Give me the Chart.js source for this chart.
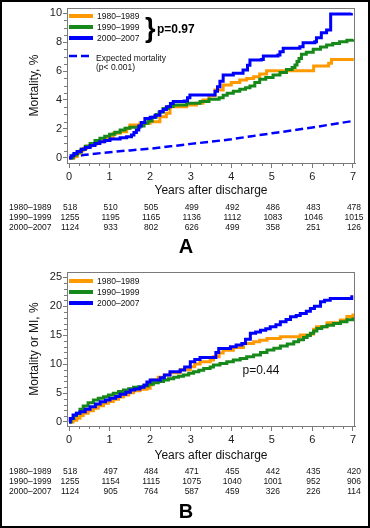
<!DOCTYPE html>
<html>
<head>
<meta charset="utf-8">
<script src="https://cdn.jsdelivr.net/npm/chart.js@4.4.1/dist/chart.umd.min.js"></script>
<style>
  html, body { margin: 0; padding: 0; background: #fff; }
  #wrap { position: relative; width: 370px; height: 528px; overflow: hidden; background: #fff; }
  #wrap canvas { position: absolute; left: 0; }
  #chartA { top: 0; }
  #chartB { top: 262px; }
  #frame { position: absolute; left: 0; top: 0; width: 370px; height: 528px; box-sizing: border-box;
           border: 2px solid #000; pointer-events: none; }
</style>
</head>
<body>
<div id="wrap">
  <canvas id="chartA" width="370" height="262"></canvas>
  <canvas id="chartB" width="370" height="266"></canvas>
  <div id="frame"></div>
</div>
<script>
const FONT = '"Liberation Sans", Arial, Helvetica, sans-serif';
const ORANGE = '#FF9900', GREEN = '#17891A', BLUE = '#0000FF', AXIS = '#7a7a7a';

// Axes
const xTicks = [0, 1, 2, 3, 4, 5, 6, 7];
const yTicksA = [0, 2, 4, 6, 8, 10];
const yTicksB = [0, 5, 10, 15, 20, 25];
const groups = ['1980\u20131989', '1990\u20131999', '2000\u20132007'];

// Panel A - mortality, %
const aOrangeT = [0, 0.12, 0.2, 0.27, 0.35, 0.43, 0.55, 0.68, 0.85, 1.01, 1.09, 1.26, 1.42, 1.5, 1.75, 2.0, 2.24, 2.4, 2.49, 2.9, 3.14, 3.3, 3.45, 3.6, 3.8, 4.0, 4.21, 4.38, 4.55, 4.7, 4.87, 6.03, 6.4, 6.47, 7.02];
const aOrangeV = [0, 0.1, 0.3, 0.5, 0.65, 0.83, 0.95, 1.12, 1.3, 1.47, 1.7, 1.81, 2.05, 2.28, 2.39, 2.5, 2.85, 3.08, 3.54, 3.65, 3.77, 4.0, 4.3, 4.69, 5.03, 5.2, 5.38, 5.49, 5.6, 5.79, 6.02, 6.34, 6.53, 6.8, 6.8];
const aGreenT = [0, 0.1, 0.2, 0.3, 0.4, 0.52, 0.64, 0.76, 0.88, 1.0, 1.13, 1.26, 1.38, 1.5, 1.75, 1.85, 1.95, 2.05, 2.15, 2.22, 2.32, 2.45, 2.57, 2.9, 3.23, 3.45, 3.7, 3.8, 3.9, 4.05, 4.21, 4.35, 4.46, 4.58, 4.7, 4.85, 5.03, 5.2, 5.36, 5.5, 5.57, 5.62, 5.67, 5.73, 5.85, 6.02, 6.2, 6.35, 6.5, 6.67, 6.85, 7.0];
const aGreenV = [0, 0.2, 0.4, 0.6, 0.8, 1.0, 1.2, 1.36, 1.5, 1.63, 1.78, 1.93, 2.05, 2.12, 2.2, 2.4, 2.55, 2.8, 3.0, 3.15, 3.42, 3.55, 3.66, 3.77, 3.89, 4.05, 4.15, 4.32, 4.46, 4.6, 4.74, 4.85, 4.97, 5.2, 5.43, 5.55, 5.72, 5.9, 6.11, 6.25, 6.41, 6.65, 6.87, 7.15, 7.3, 7.5, 7.65, 7.79, 7.9, 8.02, 8.12, 8.2];
const aBlueT = [0, 0.05, 0.12, 0.2, 0.3, 0.4, 0.52, 0.64, 0.76, 0.88, 1.01, 1.26, 1.42, 1.54, 1.6, 1.66, 1.72, 1.78, 1.87, 2.0, 2.12, 2.24, 2.32, 2.4, 2.5, 2.57, 2.84, 2.92, 2.98, 3.6, 3.66, 3.72, 3.8, 4.05, 4.29, 4.4, 4.46, 4.74, 4.79, 5.15, 5.2, 5.28, 5.69, 5.77, 6.06, 6.1, 6.22, 6.35, 6.45, 6.96];
const aBlueV = [0, 0.15, 0.3, 0.45, 0.6, 0.72, 0.85, 1.0, 1.12, 1.2, 1.31, 1.4, 1.47, 1.59, 1.75, 1.93, 2.2, 2.45, 2.73, 2.8, 2.95, 3.2, 3.35, 3.54, 3.75, 3.9, 3.93, 4.15, 4.34, 4.6, 4.92, 5.3, 5.72, 5.84, 6.07, 6.4, 6.76, 6.8, 7.03, 7.1, 7.33, 7.57, 7.68, 7.95, 8.02, 8.3, 8.65, 8.83, 9.93, 10.0];
const aExpT = [0, 0.35, 1, 1.5, 2, 2.5, 3, 3.5, 4, 4.5, 5, 5.5, 6, 6.5, 7];
const aExpV = [0, 0.2, 0.4, 0.52, 0.64, 0.8, 0.97, 1.12, 1.29, 1.5, 1.7, 1.9, 2.1, 2.33, 2.55];

// Panel B - mortality or MI, %
const bOrangeT = [0, 0.1, 0.19, 0.27, 0.35, 0.47, 0.6, 0.72, 0.85, 0.97, 1.09, 1.22, 1.34, 1.47, 1.59, 1.75, 1.92, 2.0, 2.04, 2.2, 2.35, 2.49, 2.74, 2.99, 3.1, 3.23, 3.48, 3.56, 3.7, 3.8, 4.05, 4.3, 4.55, 4.7, 4.88, 5.21, 5.7, 5.95, 6.03, 6.1, 6.36, 6.69, 6.85, 7.0];
const bOrangeV = [0, 0.3, 0.63, 1.1, 1.5, 1.95, 2.36, 2.8, 3.22, 3.55, 3.9, 4.3, 4.66, 5.05, 5.4, 5.63, 5.8, 6.38, 7.24, 7.7, 8.1, 8.5, 9.0, 9.53, 10.0, 10.4, 10.69, 11.26, 11.9, 12.4, 12.87, 13.55, 13.84, 14.1, 14.41, 14.7, 15.0, 15.17, 16.0, 16.43, 17.12, 17.59, 18.2, 18.74];
const bGreenT = [0, 0.05, 0.12, 0.19, 0.27, 0.35, 0.47, 0.6, 0.72, 0.85, 0.97, 1.09, 1.22, 1.34, 1.47, 1.59, 1.71, 1.83, 1.95, 2.08, 2.2, 2.33, 2.45, 2.58, 2.7, 2.82, 2.95, 3.07, 3.2, 3.32, 3.48, 3.56, 3.72, 3.89, 4.05, 4.22, 4.38, 4.55, 4.72, 4.88, 5.05, 5.21, 5.38, 5.54, 5.66, 5.78, 5.87, 5.95, 6.03, 6.11, 6.23, 6.36, 6.52, 6.69, 6.85, 7.0];
const bGreenV = [0, 0.6, 1.1, 1.5, 2.2, 2.76, 3.3, 3.79, 4.1, 4.36, 4.65, 4.94, 5.25, 5.52, 5.75, 5.98, 6.1, 6.2, 6.5, 6.78, 7.0, 7.24, 7.45, 7.7, 7.9, 8.1, 8.4, 8.67, 8.95, 9.25, 9.5, 9.83, 10.1, 10.4, 10.7, 10.98, 11.25, 11.55, 12.0, 12.41, 12.75, 13.1, 13.45, 13.84, 14.2, 14.6, 14.95, 15.3, 15.7, 16.15, 16.45, 16.72, 17.0, 17.3, 17.65, 18.05];
const bBlueT = [0, 0.03, 0.1, 0.18, 0.27, 0.4, 0.52, 0.65, 0.77, 0.9, 1.01, 1.15, 1.26, 1.4, 1.51, 1.62, 1.75, 1.85, 1.92, 2.0, 2.25, 2.35, 2.49, 2.74, 2.85, 2.99, 3.1, 3.23, 3.62, 3.69, 3.98, 4.12, 4.26, 4.35, 4.47, 4.6, 4.72, 4.85, 4.96, 5.1, 5.21, 5.35, 5.46, 5.6, 5.7, 5.85, 5.95, 6.05, 6.2, 6.3, 6.44, 6.97];
const bBlueV = [0, 0.6, 1.2, 1.5, 1.78, 2.2, 2.64, 3.1, 3.5, 3.8, 4.08, 4.4, 4.77, 5.15, 5.52, 5.7, 5.98, 6.4, 6.9, 7.24, 7.64, 8.1, 8.67, 8.97, 9.5, 10.4, 10.8, 11.15, 12.0, 12.7, 12.98, 13.3, 13.55, 14.3, 15.3, 15.55, 15.86, 16.1, 16.43, 16.8, 17.3, 17.7, 18.16, 18.4, 18.74, 19.1, 19.6, 20.0, 20.74, 21.0, 21.33, 21.9];

// Numbers at risk (one value per x tick)
const riskA80 = [518, 510, 505, 499, 492, 486, 483, 478];
const riskA90 = [1255, 1195, 1165, 1136, 1112, 1083, 1046, 1015];
const riskA00 = [1124, 933, 802, 626, 499, 358, 251, 126];
const riskB80 = [518, 497, 484, 471, 455, 442, 435, 420];
const riskB90 = [1255, 1154, 1115, 1075, 1040, 1001, 952, 906];
const riskB00 = [1124, 905, 764, 587, 459, 326, 226, 114];

function pts(t, v) {
    return t.map((x, i) => ({ x: x, y: v[i] }));
}

function stepLine(t, v, color, order) {
    return { data: pts(t, v), borderColor: color, borderWidth: 3, stepped: true,
             pointRadius: 0, fill: false, order: order };
}

function line(ctx, x1, y1, x2, y2) {
    ctx.beginPath(); ctx.moveTo(x1, y1); ctx.lineTo(x2, y2); ctx.stroke();
}

// Frame, minor ticks, legend, risk table and panel letter
function decorPlugin(p) {
    return {
        id: 'decor',
        afterDraw(chart) {
            const ctx = chart.ctx, a = chart.chartArea;
            const xs = chart.scales.x, ys = chart.scales.y;
            ctx.save();
            ctx.strokeStyle = AXIS;
            ctx.lineWidth = 1;
            ctx.strokeRect(a.left + 0.5, a.top + 0.5, a.right - a.left - 1, a.bottom - a.top);

            // minor ticks
            for (let i = 0; i <= 28; i++) {
                if (i % 4 === 0) continue;
                const px = Math.round(xs.getPixelForValue(i * 0.25)) + 0.5;
                line(ctx, px, a.bottom, px, a.bottom + 3);
            }
            const top = p.yTicks[p.yTicks.length - 1];
            const n = Math.round(top / p.yMinor);
            for (let i = 0; i <= n; i++) {
                const v = i * p.yMinor;
                if (p.yTicks.includes(v)) continue;
                const py = Math.round(ys.getPixelForValue(v)) + 0.5;
                line(ctx, a.left - 3, py, a.left, py);
            }

            // legend
            const colors = [ORANGE, GREEN, BLUE];
            ctx.textBaseline = 'middle';
            ctx.textAlign = 'left';
            ctx.font = '8.5px ' + FONT;
            colors.forEach((c, i) => {
                ctx.strokeStyle = c;
                ctx.lineWidth = 4;
                line(ctx, 69, p.legendY[i], 93, p.legendY[i]);
                ctx.fillStyle = '#111';
                ctx.fillText(groups[i], 97, p.legendY[i] + 0.5);
            });
            if (p.extra) p.extra(ctx);

            // numbers at risk
            ctx.fillStyle = '#111';
            ctx.font = '8.5px ' + FONT;
            p.risk.forEach((row, r) => {
                ctx.textAlign = 'left';
                ctx.fillText(groups[r], 9, p.riskY[r]);
                ctx.textAlign = 'center';
                row.forEach((val, j) => {
                    ctx.fillText(String(val), xs.getPixelForValue(xTicks[j]) + 1, p.riskY[r]);
                });
            });

            // panel letter
            ctx.font = 'bold 20px ' + FONT;
            ctx.textAlign = 'center';
            ctx.fillStyle = '#000';
            ctx.fillText(p.letter, 186, p.letterY);
            ctx.restore();
        }
    };
}

function makeChart(id, p) {
    return new Chart(document.getElementById(id), {
        type: 'line',
        data: { datasets: p.datasets },
        options: {
            responsive: false,
            animation: false,
            events: [],
            layout: { padding: { left: 0, right: 15, top: p.top, bottom: p.padBottom } },
            plugins: { legend: { display: false }, tooltip: { enabled: false } },
            scales: {
                x: {
                    type: 'linear', min: -0.05, max: 7.05,
                    afterBuildTicks: s => { s.ticks = xTicks.map(v => ({ value: v })); },
                    afterFit: s => { s.height = p.xHeight; s.paddingLeft = 0; s.paddingRight = 0; },
                    ticks: { autoSkip: false, maxRotation: 0, padding: 2, color: '#222',
                             font: { size: 11, family: FONT } },
                    grid: { drawOnChartArea: false, tickLength: 5, tickColor: AXIS },
                    border: { color: AXIS },
                    title: { display: true, text: 'Years after discharge', color: '#111',
                             font: { size: 12, family: FONT }, padding: 0 }
                },
                y: {
                    type: 'linear', min: p.yMin, max: p.yMax,
                    afterBuildTicks: s => { s.ticks = p.yTicks.map(v => ({ value: v })); },
                    afterFit: s => { s.width = 67; s.paddingTop = 0; s.paddingBottom = 0; },
                    ticks: { padding: 1, color: '#222', font: { size: 11, family: FONT } },
                    grid: { drawOnChartArea: false, tickLength: 4, tickColor: AXIS },
                    border: { color: AXIS },
                    title: { display: true, text: p.yTitle, color: '#111',
                             font: { size: 12, family: FONT }, padding: { top: 27, bottom: 0 } }
                }
            }
        },
        plugins: [decorPlugin(p)]
    });
}

makeChart('chartA', {
    top: 8, padBottom: 64, xHeight: 35,
    yMin: -0.35, yMax: 10.35, yTicks: yTicksA, yMinor: 0.5,
    yTitle: 'Mortality, %',
    legendY: [16, 27, 38],
    riskY: [208, 218, 228],
    risk: [riskA80, riskA90, riskA00],
    letter: 'A', letterY: 247,
    datasets: [
        stepLine(aBlueT, aBlueV, BLUE, 0),
        stepLine(aGreenT, aGreenV, GREEN, 1),
        stepLine(aOrangeT, aOrangeV, ORANGE, 2),
        { data: pts(aExpT, aExpV), borderColor: BLUE, borderWidth: 2.5, borderDash: [8, 4],
          pointRadius: 0, tension: 0, fill: false, order: 3 }
    ],
    extra: ctx => {
        ctx.fillStyle = '#000';
        ctx.font = 'bold 27px ' + FONT;
        ctx.textBaseline = 'alphabetic';
        ctx.fillText('}', 145, 37);
        ctx.font = 'bold 12px ' + FONT;
        ctx.textBaseline = 'middle';
        ctx.fillText('p=0.97', 157, 30);
        ctx.strokeStyle = BLUE;
        ctx.lineWidth = 2.5;
        ctx.setLineDash([8, 4]);
        line(ctx, 69, 56, 91, 56);
        ctx.setLineDash([]);
        ctx.fillStyle = '#111';
        ctx.font = '8.5px ' + FONT;
        ctx.fillText('Expected mortality', 96, 59);
        ctx.fillText('(p< 0.001)', 96, 68);
    }
});

makeChart('chartB', {
    top: 10, padBottom: 65, xHeight: 37,
    yMin: -0.7, yMax: 25.9, yTicks: yTicksB, yMinor: 1,
    yTitle: 'Mortality or MI, %',
    legendY: [19, 30, 41],
    riskY: [210, 220, 230],
    risk: [riskB80, riskB90, riskB00],
    letter: 'B', letterY: 250,
    datasets: [
        stepLine(bBlueT, bBlueV, BLUE, 0),
        stepLine(bGreenT, bGreenV, GREEN, 1),
        stepLine(bOrangeT, bOrangeV, ORANGE, 2)
    ],
    extra: ctx => {
        ctx.fillStyle = '#111';
        ctx.font = '12px ' + FONT;
        ctx.textAlign = 'center';
        ctx.fillText('p=0.44', 261, 109);
    }
});
</script>
</body>
</html>
